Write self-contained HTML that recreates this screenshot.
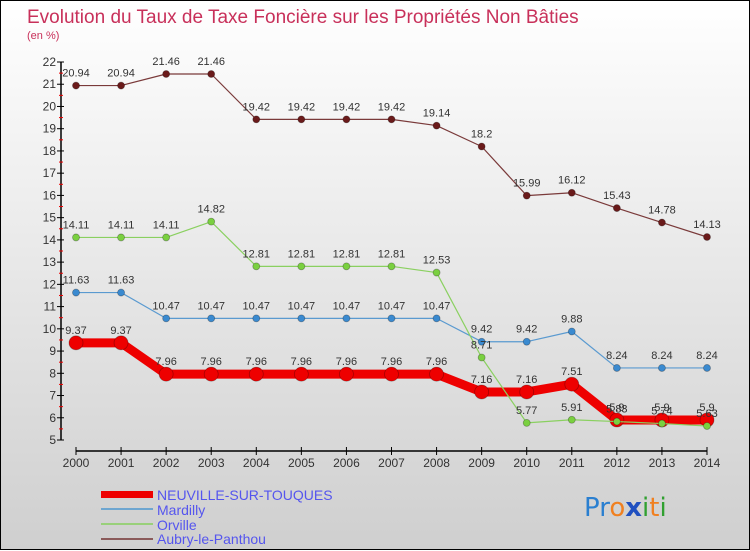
<!DOCTYPE html>
<html><head><meta charset="utf-8"><style>
html,body{margin:0;padding:0}
body{width:750px;height:550px;overflow:hidden;font-family:"Liberation Sans",sans-serif}
#wrap{position:relative;width:748px;height:548px;border:1px solid #000;background:linear-gradient(#ffffff,#cfcfcf)}
svg{position:absolute;left:0;top:0}
</style></head><body>
<div id="wrap">
<svg id="chart" width="750" height="550">
<text x="26" y="22" font-size="19" fill="#c8305a">Evolution du Taux de Taxe Foncière sur les Propriétés Non Bâties</text>
<text x="26" y="38" font-size="11" fill="#c8305a">(en %)</text>
<g id="axes"></g>
<g id="series"></g>
<g id="legend" font-size="14" fill="#5555ee">
<rect x="100" y="490" width="52" height="7" fill="#ee0000"/>
<text x="156" y="499" fill="#5555ee">NEUVILLE-SUR-TOUQUES</text>
<rect x="100" y="507" width="52" height="2" fill="#6ea6d0"/>
<text x="156" y="514" fill="#5555ee">Mardilly</text>
<rect x="100" y="522" width="52" height="2" fill="#99d07a"/>
<text x="156" y="529" fill="#5555ee">Orville</text>
<rect x="100" y="537" width="52" height="2" fill="#8a5a5a"/>
<text x="156" y="543" fill="#5555ee">Aubry-le-Panthou</text>
</g>
<g font-size="26" font-family="'DejaVu Sans',sans-serif">
<text x="583" y="515"><tspan fill="#2a7fd0">Pr</tspan><tspan fill="#f08020">o</tspan><tspan fill="#2050c0" font-weight="bold">x</tspan><tspan fill="#30a030">i</tspan><tspan fill="#f08020">t</tspan><tspan fill="#30a030">i</tspan></text>
</g>
</svg>
</div>
<script>
const years=[2000,2001,2002,2003,2004,2005,2006,2007,2008,2009,2010,2011,2012,2013,2014];
const neuville=[9.37,9.37,7.96,7.96,7.96,7.96,7.96,7.96,7.96,7.16,7.16,7.51,5.9,5.9,5.9];
const mardilly=[11.63,11.63,10.47,10.47,10.47,10.47,10.47,10.47,10.47,9.42,9.42,9.88,8.24,8.24,8.24];
const orville=[14.11,14.11,14.11,14.82,12.81,12.81,12.81,12.81,12.53,8.71,5.77,5.91,5.83,5.74,5.63];
const aubry=[20.94,20.94,21.46,21.46,19.42,19.42,19.42,19.42,19.14,18.2,15.99,16.12,15.43,14.78,14.13];
const yTicks=[5,6,7,8,9,10,11,12,13,14,15,16,17,18,19,20,21,22];
const NS="http://www.w3.org/2000/svg";
const xS=i=>75+i*(706-75)/(years.length-1);
const yS=v=>439-(v-5)*(439-61)/17;
function mk(tag,attrs,parent){const e=document.createElementNS(NS,tag);for(const k in attrs)e.setAttribute(k,attrs[k]);parent.appendChild(e);return e;}
const ax=document.getElementById('axes');
let e=mk('line',{x1:60,y1:61,x2:60,y2:439,stroke:'#000','stroke-width':1.5},ax);


yTicks.forEach(v=>{
 const t=mk('line',{x1:56,x2:63,y1:yS(v),y2:yS(v),stroke:'#000'},ax);
 
 
 if(v<22){const m=mk('line',{x1:58,x2:62,y1:yS(v+0.5),y2:yS(v+0.5),stroke:'#e00'},ax);
 
 }
 const l=mk('text',{x:55,y:yS(v)+4,'text-anchor':'end','font-size':12,fill:'#333'},ax);l.textContent=v;
 
 
});
e=mk('line',{x1:75,y1:450,x2:706,y2:450,stroke:'#000','stroke-width':1.5},ax);


years.forEach((y,i)=>{
 const t=mk('line',{x1:xS(i),x2:xS(i),y1:446,y2:454,stroke:'#000'},ax);
 
 
 const l=mk('text',{x:xS(i),y:466,'text-anchor':'middle','font-size':12,fill:'#333'},ax);l.textContent=y;
 
 
});
const sg=document.getElementById('series');
function draw(vals,color,dot,w,r,name){
 const g=mk('g',{},sg);
 
 
 const p=mk('polyline',{points:vals.map((v,i)=>xS(i)+','+yS(v)).join(' '),fill:'none',stroke:color,'stroke-width':w,'stroke-linejoin':'round'},g);
 
 
 vals.forEach((v,i)=>{
  const c=mk('circle',{cx:xS(i),cy:yS(v),r:r,fill:dot,stroke:'rgba(0,0,0,0.3)','stroke-width':0.8},g);
  
  
  const l=mk('text',{x:xS(i),y:yS(v)-9,'text-anchor':'middle','font-size':11,fill:'#333'},g);l.textContent=v;
  
  
 });
}
draw(aubry,'#7a3a3a','#6a1a1a',1.2,3.5,'aubry');
draw(mardilly,'#5a9ad0','#3a8ad0',1.2,3.5,'mardilly');
draw(neuville,'#ee0000','#ee0000',9,7,'neuville');
draw(orville,'#8ad060','#7ad040',1.2,3.5,'orville');
</script>
</body></html>
